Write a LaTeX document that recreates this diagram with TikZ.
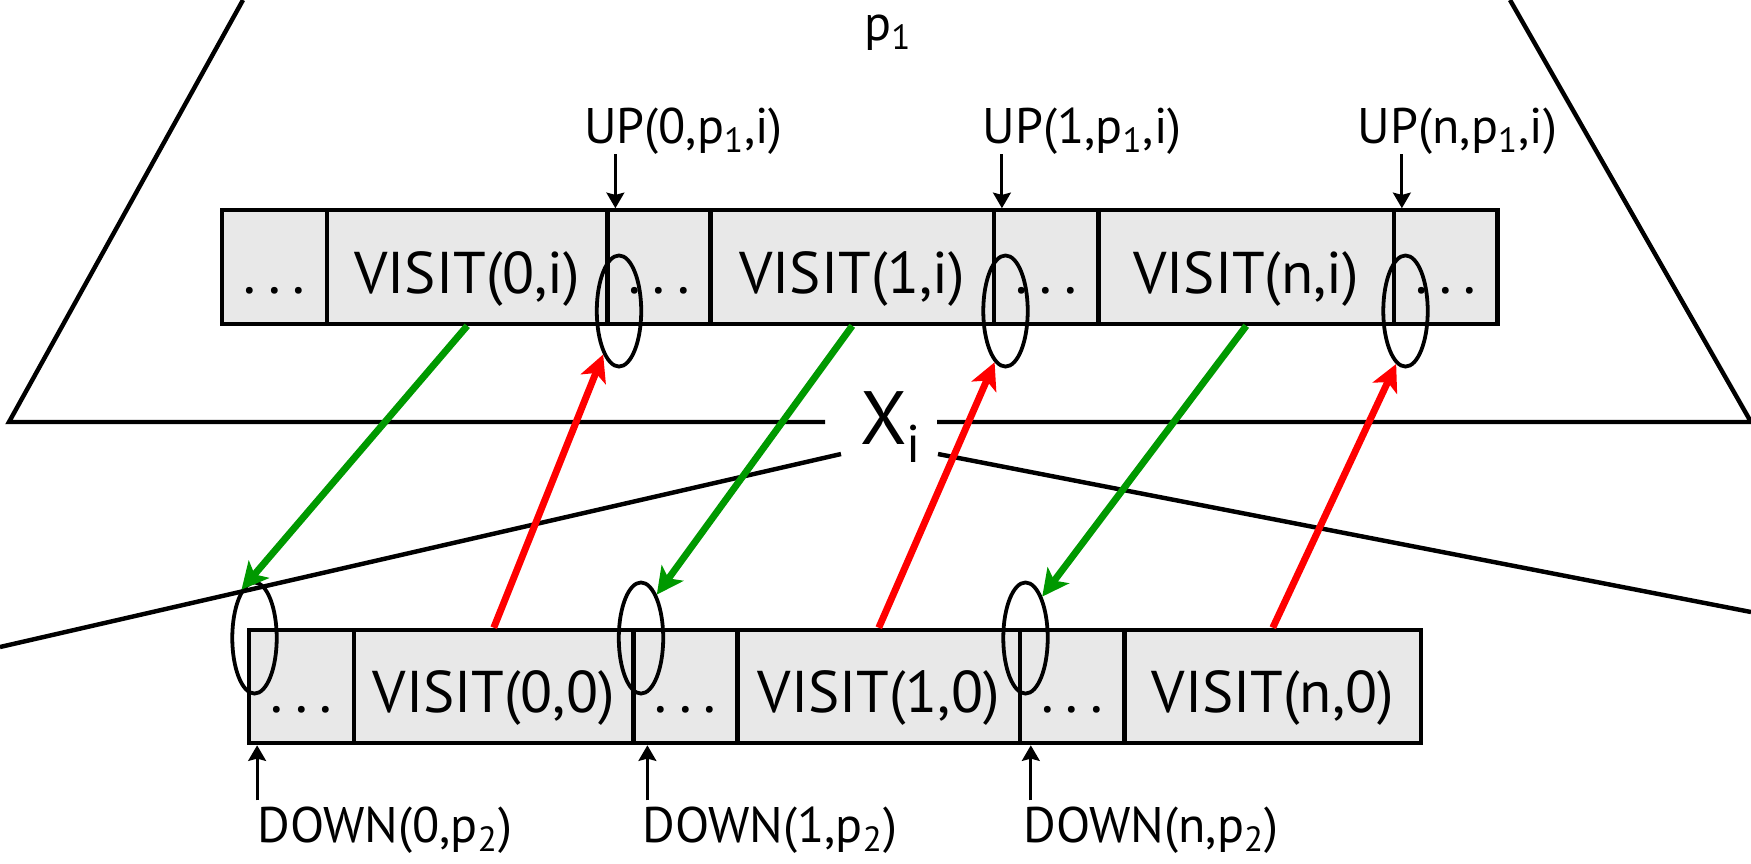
\documentclass[tikz,border=0pt]{standalone}
\usepackage{fontspec}
\setmainfont{PT Sans}
\usetikzlibrary{arrows.meta,shapes.geometric}
\definecolor{cellgray}{RGB}{232,232,232}
\definecolor{fwdgreen}{RGB}{0,153,0}
\definecolor{bwdred}{RGB}{255,0,0}
\newcommand\sub[1]{\textsubscript{#1}}
\newcommand\gap{.\kern0.2em.\kern0.2em.}

\begin{document}
\begin{tikzpicture}[x=0.45pt,y=-0.45pt,
  cell/.style={draw, line width=1.9pt, fill=cellgray, minimum height=51pt, inner sep=0pt,
    text height=23.4pt, text depth=0pt, font=\fontsize{26.5pt}{30pt}\selectfont},
  seam/.style={draw, ellipse, line width=1.7pt, minimum width=20pt, minimum height=50pt, inner sep=0pt},
  lbl/.style={inner sep=0pt, font=\fontsize{22.5pt}{26pt}\selectfont},
  ptr/.style={line width=1.3pt, -{Stealth[length=7pt,width=8pt,inset=1pt]}},
  fwd/.style={line width=3.1pt, fwdgreen, -{Stealth[length=12pt,width=12pt,inset=3pt]}},
  bwd/.style={line width=3.1pt, bwdred, -{Stealth[length=12pt,width=12pt,inset=3pt]}},
  outline/.style={line width=2pt}]
 \useasboundingbox (0,0) rectangle (1751,863);
 \draw[outline] (243,0) -- (9,422) -- (825,422);
 \draw[outline] (937,422) -- (1751,422) -- (1510,0);
 \draw[outline] (841,454) -- (0,647);
 \draw[outline] (938,454) -- (1751,612);
 \node[lbl, anchor=base] (p1) at (888,40) {p\sub{1}};
 \node[inner sep=0pt, anchor=base, font=\fontsize{34pt}{38pt}\selectfont] (xi) at (891,444) {X\sub{i}};

 \node[cell, minimum width=47.25pt] (t1) at (274.5,267) {\gap};
 \node[cell, minimum width=126.2pt] (t2) at (467.25,267) {VISIT(0,i)};
 \node[cell, minimum width=46.35pt] (t3) at (659,267) {\gap};
 \node[cell, minimum width=127.6pt] (t4) at (852.25,267) {VISIT(1,i)};
 \node[cell, minimum width=47pt] (t5) at (1046.25,267) {\gap};
 \node[cell, minimum width=133pt] (t6) at (1246.25,267) {VISIT(n,i)};
 \node[cell, minimum width=46.6pt] (t7) at (1445.75,267) {\gap};

 \node[cell, minimum width=47.25pt] (b1) at (301.5,686.5) {\gap};
 \node[cell, minimum width=125.8pt] (b2) at (493.75,686.5) {VISIT(0,0)};
 \node[cell, minimum width=46.8pt] (b3) at (685.5,686.5) {\gap};
 \node[cell, minimum width=127.1pt] (b4) at (878.75,686.5) {VISIT(1,0)};
 \node[cell, minimum width=47pt] (b5) at (1072.25,686.5) {\gap};
 \node[cell, minimum width=133.4pt] (b6) at (1272.75,686.5) {VISIT(n,0)};

 \node[seam] (te1) at (619,311) {};
 \node[seam] (te2) at (1005.5,311) {};
 \node[seam] (te3) at (1405.5,311) {};
 \node[seam] (be1) at (254.5,638) {};
 \node[seam] (be2) at (641,638) {};
 \node[seam] (be3) at (1025.5,638) {};

 \draw[fwd] (t2.south) -- (be1.105);
 \draw[fwd] (t4.south) -- (be2.70);
 \draw[fwd] (t6.south) -- (be3.68);
 \draw[bwd] (b2.north) -- (te1.250);
 \draw[bwd] (b4.north) -- (te2.258);
 \draw[bwd] (b6.north) -- (te3.260);

 \node[lbl, anchor=base] (up0) at (683.5,143) {UP(0,p\sub{1},i)};
 \node[lbl, anchor=base] (up1) at (1082,143) {UP(1,p\sub{1},i)};
 \node[lbl, anchor=base] (upn) at (1457.5,143) {UP(n,p\sub{1},i)};
 \coordinate (u0) at ([xshift=4.5pt]t3.north west);
 \coordinate (u1) at ([xshift=4.5pt]t5.north west);
 \coordinate (u2) at ([xshift=4.5pt]t7.north west);
 \draw[ptr] (up0.south -| u0) -- (u0);
 \draw[ptr] (up1.south -| u1) -- (u1);
 \draw[ptr] (upn.south -| u2) -- (u2);

 \node[lbl, anchor=base west] (dn0) at (257,842) {DOWN(0,p\sub{2})};
 \node[lbl, anchor=base west] (dn1) at (642,842) {DOWN(1,p\sub{2})};
 \node[lbl, anchor=base west] (dnn) at (1023,842) {DOWN(n,p\sub{2})};
 \coordinate (d0) at ([xshift=4.6pt]b1.south west);
 \coordinate (d1) at ([xshift=7.2pt]b3.south west);
 \coordinate (d2) at ([xshift=5.8pt]b5.south west);
 \draw[ptr] ([yshift=2.5pt]dn0.north -| d0) -- (d0);
 \draw[ptr] ([yshift=2.5pt]dn1.north -| d1) -- (d1);
 \draw[ptr] ([yshift=2.5pt]dnn.north -| d2) -- (d2);
\end{tikzpicture}
\end{document}
